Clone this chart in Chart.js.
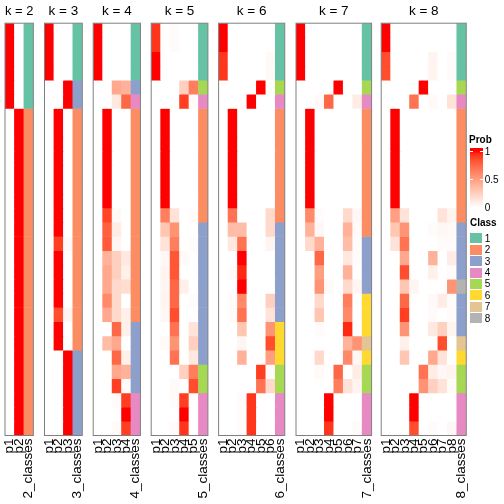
<!DOCTYPE html>
<html>
<head>
<meta charset="utf-8">
<script src="https://cdn.jsdelivr.net/npm/chart.js@4"></script>
<style>
  body { margin: 0; background: #fff; font-family: "Liberation Sans", Arial, sans-serif; }
  #wrap { position: relative; width: 504px; height: 504px; overflow: hidden; }
  #wrap canvas { position: absolute; left: 0; top: 0; }
  .lg { position: absolute; font-size: 10px; line-height: 10px; color: #000; white-space: nowrap; }
</style>
</head>
<body>
<div id="wrap"></div>
<script>
// membership probabilities, one row per sample (top to bottom), columns p1..pk
const prob2 = [
  [1,0],[1,0],[1,0],[1,0],[1,0],[1,0],
  [0,1],[0,1],[0,1],[0,1],[0,1],[0,1],[0,1],[0,1],[0,1],[0,1],[0,1],[0,1],
  [0,1],[0,1],[0,1],[0,1],[0,1],[0,1],[0,1],[0,1],[0,1],[0,1],[0,1]
];
const class2 = [1,1,1,1,1,1, 2,2,2,2,2,2,2,2,2,2,2,2,2,2,2,2,2,2,2,2,2,2,2];

const prob3 = [
  [1,0,0],[1,0,0],[1,0,0],[1,0,0],
  [0,0,1],[0,0,1],
  [0,1,0],[0,1,0],[0,1,0],[0,1,0],[0,1,0],[0,1,0],[0,1,0],[0,1,0],[0,1,0],
  [0,0.9,0.03],
  [0,1,0],[0,1,0],[0,1,0],[0,1,0],
  [0,0.85,0.06],
  [0,1,0],[0,1,0],
  [0,0,1],[0,0,1],[0,0,1],[0,0,1],[0,0,1],[0,0,1]
];
const class3 = [1,1,1,1, 3,3, 2,2,2,2,2,2,2,2,2,2,2,2,2,2,2,2,2, 3,3,3,3,3,3];

const prob4 = [
  [1,0,0,0],[1,0,0,0],[1,0,0,0],[1,0,0,0],
  [0,0,0.45,0.4],
  [0,0,0.12,0.75],
  [0,1,0,0],[0,1,0,0],[0,1,0,0],[0,1,0,0],[0,1,0,0],[0,1,0,0],[0,1,0,0],
  [0,0.88,0.03,0],
  [0,0.78,0.1,0],
  [0,0.8,0.05,0],
  [0,0.4,0.25,0.12],
  [0,0.45,0.25,0.08],
  [0,0.45,0.2,0.18],
  [0,0.6,0.2,0],
  [0,0.45,0.2,0.08],
  [0,0,0.75,0.08],
  [0,0.35,0.45,0],
  [0,0,0.75,0.08],
  [0,0,0.45,0.4],
  [0,0,0.9,0.02],
  [0,0,0.02,0.9],
  [0,0,0,1],
  [0,0,0.02,0.9]
];
const class4 = [1,1,1,1, 3, 4, 2,2,2,2,2,2,2,2,2,2,2,2,2,2,2, 3,3,3,3,3, 4,4,4];

const prob5 = [
  [0.92,0,0.02,0,0],[0.92,0,0.02,0,0],
  [1,0,0,0,0],[1,0,0,0,0],
  [0,0,0,0.25,0.65],
  [0,0,0,0.9,0.02],
  [0,1,0,0,0],[0,1,0,0,0],[0,1,0,0,0],[0,1,0,0,0],[0,1,0,0,0],[0,1,0,0,0],[0,1,0,0,0],
  [0,0.65,0.15,0,0.02],
  [0,0.3,0.55,0,0],
  [0,0.15,0.65,0,0.02],
  [0,0.04,0.82,0.03,0],
  [0,0.06,0.82,0,0],
  [0,0.05,0.75,0.08,0],
  [0,0.06,0.75,0,0.02],
  [0,0.04,0.85,0,0],
  [0,0,0.7,0,0.15],
  [0,0.03,0.55,0,0.25],
  [0,0,0.7,0,0.12],
  [0,0,0,0.25,0.65],
  [0,0,0.03,0,0.85],
  [0,0,0.02,0.9,0],
  [0,0,0,1,0],
  [0,0,0.02,0.92,0]
];
const class5 = [1,1,1,1, 5, 4, 2,2,2,2,2,2,2,2, 3,3,3,3,3,3,3,3,3,3, 5,5, 4,4,4];

const prob6 = [
  [1,0,0,0,0,0],[1,0,0,0,0,0],
  [0.92,0,0,0,0,0.03],[0.92,0,0,0,0,0.03],
  [0,0,0,0,1,0],
  [0,0,0,1,0,0],
  [0,1,0,0,0,0],[0,1,0,0,0,0],[0,1,0,0,0,0],[0,1,0,0,0,0],[0,1,0,0,0,0],[0,1,0,0,0,0],[0,1,0,0,0,0],
  [0,0.7,0,0,0,0.2],
  [0,0.35,0.35,0,0,0.2],
  [0,0.12,0.7,0,0,0.06],
  [0,0,1,0,0,0],
  [0,0.02,0.95,0,0,0],
  [0,0,1,0,0,0],
  [0,0.02,0.6,0,0,0.25],
  [0,0.02,0.7,0,0,0.15],
  [0,0,0.3,0,0,0.55],
  [0,0,0.05,0,0,0.85],
  [0,0,0.4,0,0,0.5],
  [0,0,0,0,0.9,0.02],
  [0,0,0,0,0.7,0.2],
  [0,0,0.02,0.92,0,0],
  [0,0,0.02,0.92,0,0],
  [0,0,0.02,0.92,0,0]
];
const class6 = [1,1,1,1, 5, 4, 2,2,2,2,2,2,2,2, 3,3,3,3,3,3,3, 6,6,6, 5,5, 4,4,4];

const prob7 = [
  [1,0,0,0,0,0,0],[1,0,0,0,0,0,0],[1,0,0,0,0,0,0],[1,0,0,0,0,0,0],
  [0,0,0,0,1,0,0],
  [0,0,0.03,0.75,0,0,0.1],
  [0,1,0,0,0,0,0],[0,1,0,0,0,0,0],[0,1,0,0,0,0,0],[0,1,0,0,0,0,0],[0,1,0,0,0,0,0],[0,1,0,0,0,0,0],[0,1,0,0,0,0,0],
  [0,0.6,0.02,0,0,0.2,0.04],
  [0,0.4,0.04,0,0,0.4,0.03],
  [0,0.2,0.4,0,0,0.35,0.02],
  [0,0,0.75,0,0,0.12,0.02],
  [0,0,0.5,0,0,0.4,0],
  [0,0,0.55,0.03,0,0.2,0.05],
  [0,0,0.2,0,0,0.65,0],
  [0,0,0.3,0,0,0.6,0],
  [0,0,0.02,0,0,0.95,0],
  [0,0,0,0,0,0.4,0.55],
  [0,0,0.2,0,0,0.6,0.04],
  [0,0,0.03,0,0.75,0,0.1],
  [0,0,0,0,0.65,0.15,0.06],
  [0,0,0,1,0,0,0],
  [0,0,0,1,0,0,0],
  [0,0,0,0.92,0,0,0.02]
];
const class7 = [1,1,1,1, 5, 4, 2,2,2,2,2,2,2,2,2, 3,3,3,3, 6,6,6, 7, 6, 5,5, 4,4,4];

const prob8 = [
  [1,0,0,0,0,0,0,0],[1,0,0,0,0,0,0,0],
  [0.85,0,0,0,0,0.06,0,0.02],[0.85,0,0,0,0,0.06,0,0.02],
  [0,0,0,0,1,0,0,0],
  [0,0,0,0.7,0,0.03,0,0.15],
  [0,1,0,0,0,0,0,0],[0,1,0,0,0,0,0,0],[0,1,0,0,0,0,0,0],[0,1,0,0,0,0,0,0],[0,1,0,0,0,0,0,0],[0,1,0,0,0,0,0,0],[0,1,0,0,0,0,0,0],
  [0,0.5,0.15,0,0,0,0.15,0.06],
  [0,0.3,0.55,0,0,0.02,0.04,0.03],
  [0,0.15,0.7,0,0,0,0.02,0.02],
  [0,0,0.45,0,0,0.4,0,0.1],
  [0,0,0.85,0,0,0.08,0,0.02],
  [0,0,0.3,0.05,0,0,0,0.55],
  [0,0,0.75,0,0,0.03,0.1,0.02],
  [0,0,0.9,0,0,0.02,0,0.02],
  [0,0,0.55,0,0,0.12,0.25,0.06],
  [0,0,0.08,0,0,0,0.85,0],
  [0,0,0.3,0,0,0.45,0.15,0],
  [0,0,0,0,0.7,0.1,0.04,0.06],
  [0,0,0,0,0.55,0.25,0.15,0.02],
  [0,0,0,1,0,0,0,0],
  [0,0,0,1,0,0,0,0],
  [0,0,0,0.85,0,0.02,0,0.04]
];
const class8 = [1,1,1,1, 5, 4, 2,2,2,2,2,2,2,2, 3,3,3,3, 8, 3,3,3, 7, 6, 5,5, 4,4,4];

const classColors = ['#66C2A5', '#FC8D62', '#8DA0CB', '#E78AC3', '#A6D854', '#FFD92F', '#E5C494', '#B3B3B3'];
const probTicks = [1, 0.5, 0];

const ks = [2, 3, 4, 5, 6, 7, 8];
const probs = {2: prob2, 3: prob3, 4: prob4, 5: prob5, 6: prob6, 7: prob7, 8: prob8};
const classes = {2: class2, 3: class3, 4: class4, 5: class5, 6: class6, 7: class7, 8: class8};

// layout
const panelLeft = [5, 44.5, 93.2, 151.2, 218.6, 296, 381.2];
const colW = 9.45;

Chart.defaults.font.family = '"Liberation Sans", Arial, sans-serif';
Chart.defaults.color = '#000';

// white -> red in LAB space
function probColor(p) {
    const L = 100 + (53.24 - 100) * p, A = 80.09 * p, B = 67.2 * p;
    const fy = (L + 16) / 116, fx = fy + A / 500, fz = fy - B / 200;
    const finv = t => t > 6 / 29 ? t * t * t : 3 * (6 / 29) * (6 / 29) * (t - 4 / 29);
    const X = 0.95047 * finv(fx), Y = finv(fy), Z = 1.08883 * finv(fz);
    const lin = [
        3.2404542 * X - 1.5371385 * Y - 0.4985314 * Z,
        -0.9692660 * X + 1.8760108 * Y + 0.0415560 * Z,
        0.0556434 * X - 0.2040259 * Y + 1.0572252 * Z
    ];
    const rgb = lin.map(function(c) {
        c = c <= 0.0031308 ? 12.92 * c : 1.055 * Math.pow(c, 1 / 2.4) - 0.055;
        return Math.round(Math.min(1, Math.max(0, c)) * 255);
    });
    return 'rgb(' + rgb.join(',') + ')';
}

const panelBorder = {
    id: 'panelBorder',
    afterDatasetsDraw(chart) {
        const a = chart.chartArea, ctx = chart.ctx;
        ctx.save();
        ctx.strokeStyle = '#808080';
        ctx.lineWidth = 1;
        ctx.strokeRect(a.left, a.top, a.right - a.left, a.bottom - a.top);
        ctx.restore();
    }
};

const wrap = document.getElementById('wrap');

ks.forEach(function(k, i) {
    const canvas = document.createElement('canvas');
    canvas.width = 504;
    canvas.height = 504;
    wrap.appendChild(canvas);

    const labels = [];
    for (let c = 1; c <= k; c++) labels.push('p' + c);
    labels.push(k + '_classes');

    const rows = probs[k], cls = classes[k];
    // one stacked dataset per sample row, each cell one unit tall
    const datasets = rows.map(function(row, r) {
        return {
            data: labels.map(() => 1),
            backgroundColor: row.map(probColor).concat(classColors[cls[r] - 1]),
            borderWidth: 0,
            barPercentage: 1,
            categoryPercentage: 1
        };
    });

    const w = colW * (k + 1);
    new Chart(canvas, {
        type: 'bar',
        data: { labels: labels, datasets: datasets },
        options: {
            responsive: false,
            animation: false,
            layout: { padding: { left: panelLeft[i], right: 504 - panelLeft[i] - w, top: 0, bottom: 0 } },
            plugins: {
                legend: { display: false },
                tooltip: { enabled: false },
                title: {
                    display: true,
                    text: 'k = ' + k,
                    color: '#000',
                    font: { size: 13.5, weight: 'normal' },
                    padding: { top: 3, bottom: 4 }
                }
            },
            scales: {
                x: {
                    stacked: true,
                    grid: { display: false, drawTicks: false },
                    border: { display: false },
                    ticks: { autoSkip: false, minRotation: 90, maxRotation: 90, padding: 3, color: '#000', font: { size: 13.5 } },
                    afterFit: function(s) {
                        s.paddingLeft = 0;
                        s.paddingRight = 0;
                        s.height = 68.5;
                    }
                },
                y: { stacked: true, display: false, min: 0, max: rows.length, reverse: true }
            }
        },
        plugins: [panelBorder]
    });
});

// legends on the right
function addDiv(cls, css, text) {
    const d = document.createElement('div');
    d.className = cls;
    Object.assign(d.style, css);
    if (text !== undefined) d.textContent = text;
    wrap.appendChild(d);
    return d;
}

addDiv('lg', { left: '469px', top: '134.5px', fontWeight: 'bold' }, 'Prob');
const barTop = 148, barH = 61, y1 = 151, y0 = 207.5;
const stops = [];
for (let s = 0; s <= 20; s++) {
    const p = 1 - s / 20;
    stops.push(probColor(p) + ' ' + (y1 - barTop + (y0 - y1) * s / 20).toFixed(1) + 'px');
}
addDiv('', { position: 'absolute', left: '469.5px', top: barTop + 'px', width: '13px', height: barH + 'px',
    background: 'linear-gradient(to bottom, ' + probColor(1) + ' 0px, ' + stops.join(', ') + ')' });
probTicks.forEach(function(v) {
    const y = y0 - (y0 - y1) * v;
    addDiv('', { position: 'absolute', left: '469.5px', top: (y - 0.5) + 'px', width: '3px', height: '1px', background: '#fff' });
    addDiv('', { position: 'absolute', left: '479.5px', top: (y - 0.5) + 'px', width: '3px', height: '1px', background: '#fff' });
    addDiv('lg', { left: '484.7px', top: (y - 4.5) + 'px' }, String(v));
});

addDiv('lg', { left: '470px', top: '217.5px', fontWeight: 'bold' }, 'Class');
classColors.forEach(function(col, j) {
    const top = 233.3 + j * 11.4;
    addDiv('', { position: 'absolute', left: '470.3px', top: top + 'px', width: '11.7px', height: '10px', background: col });
    addDiv('lg', { left: '484.7px', top: (top + 0.5) + 'px' }, String(j + 1));
});
</script>
</body>
</html>
